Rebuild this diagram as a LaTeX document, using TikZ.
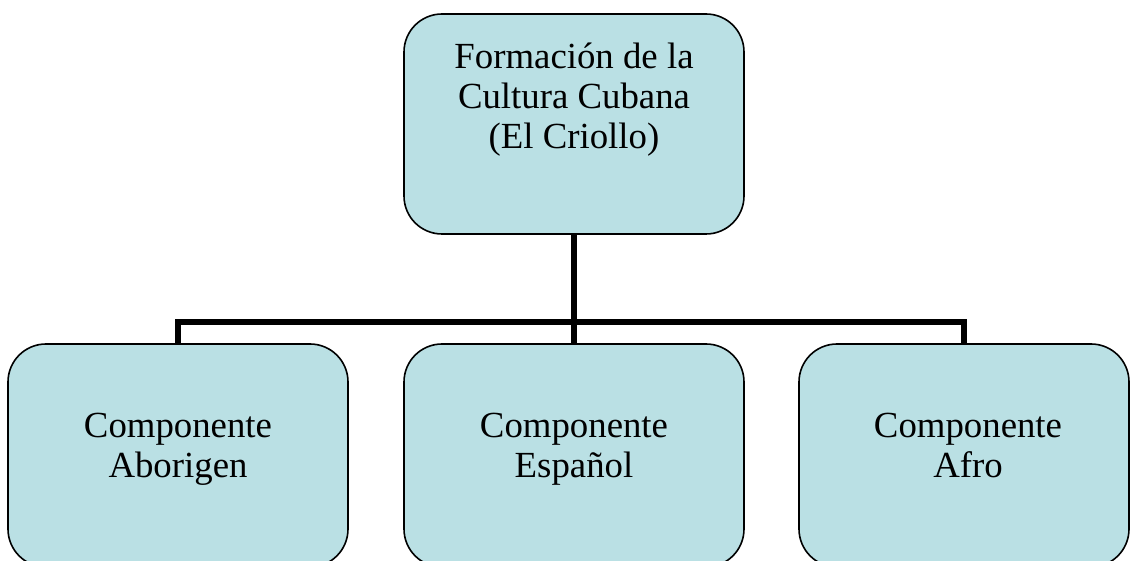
\documentclass[tikz,border=0pt]{standalone}
\usepackage{fontspec}
\setmainfont{Liberation Serif}
\definecolor{boxfill}{HTML}{BAE0E4}
\begin{document}
\begin{tikzpicture}[x=1pt,y=-1pt,
  box/.style={draw=black, line width=1.6pt, fill=boxfill, rounded corners=38pt,
    inner sep=0pt, minimum width=340pt},
  conn/.style={draw=black, line width=6.5pt},
  lbl/.style={inner sep=0pt, align=center, font=\fontsize{36.8}{40}\selectfont}]
\useasboundingbox (0,0) rectangle (1130,561);
% connectors (drawn first)
\node[box, minimum height=220pt, draw=none, fill=none] (top) at (574,124) {};
\node[box, minimum height=223pt, draw=none, fill=none] (left) at (178,455.5) {};
\node[box, minimum height=223pt, draw=none, fill=none] (mid) at (574,455.5) {};
\node[box, minimum height=223pt, minimum width=330pt, draw=none, fill=none] (right) at (964,455.5) {};
\coordinate (bar) at (574,322);
\draw[conn] (top.south) -- (mid.north);
\draw[conn] (left.north) |- (bar) -| (right.north);
% boxes
\node[box, minimum height=220pt] (topbox) at (top) {};
\node[box, minimum height=223pt] (leftbox) at (left) {};
\node[box, minimum height=223pt] (midbox) at (mid) {};
\node[box, minimum height=223pt, minimum width=330pt] (rightbox) at (right) {};
% texts (anchor base = baseline of last line)
\node[lbl, anchor=base] (toptext) at (574,149) {Formación de la\\Cultura Cubana\\(El Criollo)};
\node[lbl, anchor=base] (lefttext) at (178,477) {Componente\\Aborigen};
\node[lbl, anchor=base] (midtext) at (574,477) {Componente\\Español};
\node[lbl, anchor=base] (righttext) at (968,477) {Componente\\Afro};
\end{tikzpicture}
\end{document}
